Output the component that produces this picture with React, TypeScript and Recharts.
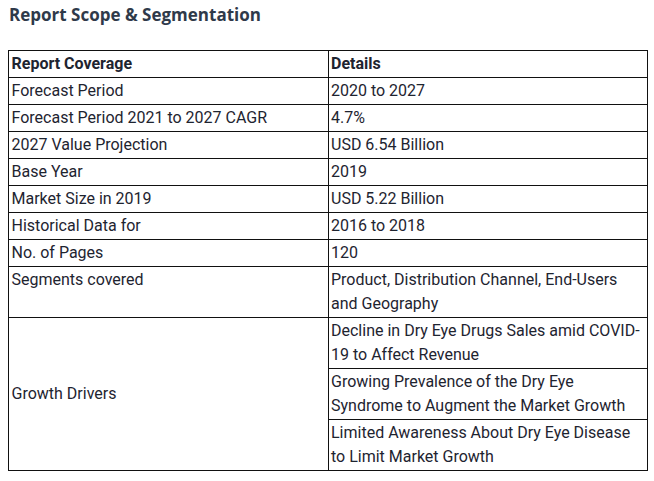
import React from "react";
import { Surface, Layer, Text } from "recharts";

const title = "Report Scope & Segmentation";
const headers = ["Report Coverage", "Details"];
const coverage = [
  "Forecast Period",
  "Forecast Period 2021 to 2027 CAGR",
  "2027 Value Projection",
  "Base Year",
  "Market Size in 2019",
  "Historical Data for",
  "No. of Pages",
  "Segments covered",
];
const details: string[][] = [
  ["2020 to 2027"],
  ["4.7%"],
  ["USD 6.54 Billion"],
  ["2019"],
  ["USD 5.22 Billion"],
  ["2016 to 2018"],
  ["120"],
  ["Product, Distribution Channel, End-Users", "and Geography"],
];
const driverLabel = "Growth Drivers";
const drivers: string[][] = [
  ["Decline in Dry Eye Drugs Sales amid COVID-", "19 to Affect Revenue"],
  ["Growing Prevalence of the Dry Eye", "Syndrome to Augment the Market Growth"],
  ["Limited Awareness About Dry Eye Disease", "to Limit Market Growth"],
];

const W = 654;
const H = 481;
const LEFT = 8.5;
const RIGHT = 647.5;
const COL = 328.5;
const TOP = 50.5;
const LINE_H = 24;
const PAD = 3;
const FONT = "Roboto, 'Noto Sans', sans-serif";
const FS = 16;
const TEXT_COLOR = "#1e2430";
const BORDER = "#111";

function rowHeight(lines: number) {
  return lines * LINE_H + PAD;
}

function CellText({ x, top, lines, bold }: { x: number; top: number; lines: string[]; bold?: boolean }) {
  return (
    <>
      {lines.map((l, i) => (
        <Text
          key={i}
          x={x}
          y={top + 0.5 + LINE_H / 2 + i * LINE_H}
          verticalAnchor="middle"
          textAnchor="start"
          fontFamily={FONT}
          fontSize={FS}
          fontWeight={bold ? 700 : 400}
          fill={TEXT_COLOR}
        >
          {l}
        </Text>
      ))}
    </>
  );
}

export default function App() {
  const hLines: number[] = [];
  const elems: React.ReactNode[] = [];
  let y = TOP;
  hLines.push(y);
  elems.push(<CellText key="h0" x={LEFT + 3} top={y} lines={[headers[0]]} bold />);
  elems.push(<CellText key="h1" x={COL + 2.5} top={y} lines={[headers[1]]} bold />);
  y += rowHeight(1);
  coverage.forEach((c, i) => {
    hLines.push(y);
    const n = details[i].length;
    elems.push(<CellText key={"c" + i} x={LEFT + 3} top={y} lines={[c]} />);
    elems.push(<CellText key={"d" + i} x={COL + 2.5} top={y} lines={details[i]} />);
    y += rowHeight(n);
  });
  const driversTop = y;
  hLines.push(y);
  drivers.forEach((d, i) => {
    if (i > 0) {
      elems.push(
        <line key={"dl" + i} x1={COL} x2={RIGHT} y1={y} y2={y} stroke={BORDER} strokeWidth={1} />
      );
    }
    elems.push(<CellText key={"g" + i} x={COL + 2.5} top={y} lines={d} />);
    y += rowHeight(d.length);
  });
  const bottom = y;
  const mid = (driversTop + bottom) / 2;
  elems.push(
    <Text
      key="gl"
      x={LEFT + 3}
      y={mid - 1}
      verticalAnchor="middle"
      fontFamily={FONT}
      fontSize={FS}
      fill={TEXT_COLOR}
    >
      {driverLabel}
    </Text>
  );

  return (
    <div style={{ position: "absolute", left: 0, top: 0, width: W, height: H, background: "#fff" }}>
      <Surface width={W} height={H}>
        <Layer>
          <Text
            x={9}
            y={15}
            verticalAnchor="middle"
            fontFamily="'Open Sans', Lato, sans-serif"
            fontSize={17}
            fontWeight={700}
            fill="#2f3a4a"
          >
            {title}
          </Text>
          <rect x={LEFT} y={TOP} width={RIGHT - LEFT} height={bottom - TOP} fill="none" stroke={BORDER} strokeWidth={1} />
          {hLines.slice(1).map((hy, i) => (
            <line key={"h" + i} x1={LEFT} x2={RIGHT} y1={hy} y2={hy} stroke={BORDER} strokeWidth={1} />
          ))}
          <line x1={COL} x2={COL} y1={TOP} y2={bottom} stroke={BORDER} strokeWidth={1} />
          {elems}
        </Layer>
      </Surface>
    </div>
  );
}
